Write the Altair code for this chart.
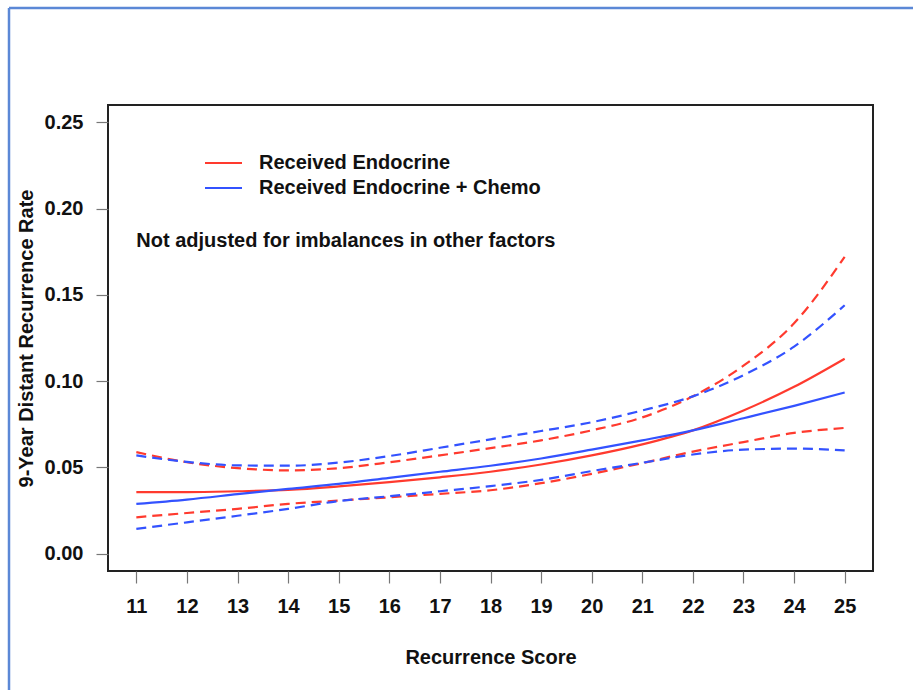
import altair as alt
import pandas as pd

scores = list(range(11, 26))

endo_est = [0.0357, 0.0357, 0.0362, 0.0370, 0.0390, 0.0415, 0.0443, 0.0475, 0.0517, 0.0570, 0.0634, 0.0715, 0.0830, 0.0967, 0.1130]
endo_lo = [0.0211, 0.0236, 0.0260, 0.0289, 0.0308, 0.0327, 0.0347, 0.0368, 0.0409, 0.0463, 0.0525, 0.0592, 0.0647, 0.0700, 0.0729]
endo_hi = [0.0589, 0.0530, 0.0496, 0.0483, 0.0496, 0.0530, 0.0570, 0.0612, 0.0657, 0.0715, 0.0790, 0.0912, 0.1090, 0.1335, 0.1720]

chemo_est = [0.0289, 0.0314, 0.0345, 0.0376, 0.0405, 0.0440, 0.0475, 0.0510, 0.0552, 0.0603, 0.0657, 0.0715, 0.0785, 0.0857, 0.0934]
chemo_lo = [0.0144, 0.0182, 0.0220, 0.0260, 0.0305, 0.0333, 0.0362, 0.0392, 0.0428, 0.0479, 0.0527, 0.0575, 0.0603, 0.0609, 0.0599]
chemo_hi = [0.0570, 0.0532, 0.0512, 0.0510, 0.0528, 0.0566, 0.0614, 0.0663, 0.0711, 0.0762, 0.0830, 0.0912, 0.1035, 0.1200, 0.1440]

groups = ["Received Endocrine", "Received Endocrine + Chemo"]
colors = ["#ff3a2e", "#3352ff"]
y_ticks = [0.0, 0.05, 0.10, 0.15, 0.20, 0.25]
note = "Not adjusted for imbalances in other factors"

rows = []
for g, est, lo, hi in [(groups[0], endo_est, endo_lo, endo_hi), (groups[1], chemo_est, chemo_lo, chemo_hi)]:
    for kind, vals in [("estimate", est), ("lower", lo), ("upper", hi)]:
        for s, v in zip(scores, vals):
            rows.append({"score": s, "rate": v, "group": g, "kind": kind})
df = pd.DataFrame(rows)

FONT = "Liberation Sans"
FS = 20

xscale = alt.Scale(domain=[10.44, 25.56], nice=False, zero=False)
yscale = alt.Scale(domain=[-0.01, 0.26], nice=False, zero=False)
cscale = alt.Scale(domain=groups, range=colors)

xaxis = alt.Axis(values=scores, title="Recurrence Score", grid=False, domain=False,
                 tickColor="#777777", tickSize=12, tickWidth=1.2,
                 labelFont=FONT, labelFontSize=FS, labelFontWeight="bold", labelColor="#111111",
                 labelPadding=13, labelFlush=False,
                 titleFont=FONT, titleFontSize=FS, titleFontWeight="bold", titleColor="#111111",
                 titleY=86, titleBaseline="middle")
yaxis = alt.Axis(values=y_ticks, format=".2f", title="9-Year Distant Recurrence Rate", grid=False, domain=False,
                 tickColor="#777777", tickSize=12, tickWidth=1.2,
                 labelFont=FONT, labelFontSize=FS, labelFontWeight="bold", labelColor="#111111",
                 labelPadding=13, labelFlush=False,
                 titleFont=FONT, titleFontSize=FS, titleFontWeight="bold", titleColor="#111111",
                 titleX=-82, titleY=233, titleAngle=-90, titleBaseline="middle", titleAlign="center")

base = alt.Chart(df)

est_lines = base.transform_filter(alt.datum.kind == "estimate").mark_line(
    strokeWidth=2.2, interpolate="monotone"
).encode(
    x=alt.X("score:Q", scale=xscale, axis=xaxis),
    y=alt.Y("rate:Q", scale=yscale, axis=yaxis),
    color=alt.Color("group:N", scale=cscale, sort=groups, legend=None),
    detail="group:N",
)

bound_lines = base.transform_filter(alt.datum.kind != "estimate").mark_line(
    strokeWidth=2.2, interpolate="monotone", strokeDash=[10, 6]
).encode(
    x=alt.X("score:Q", scale=xscale),
    y=alt.Y("rate:Q", scale=yscale),
    color=alt.Color("group:N", scale=cscale, sort=groups, legend=None),
    detail=alt.Detail(["group:N", "kind:N"]),
)

note_df = pd.DataFrame({"score": [11], "rate": [0.1814], "label": [note]})
note_text = alt.Chart(note_df).mark_text(
    align="left", baseline="middle", font=FONT, fontSize=FS, fontWeight="bold", color="#111111"
).encode(
    x=alt.X("score:Q", scale=xscale),
    y=alt.Y("rate:Q", scale=yscale),
    text="label:N",
)

# manual legend (key lines + labels)
one = pd.DataFrame({"a": [0]})
legend_layers = []
for i, (g, c) in enumerate(zip(groups, colors)):
    yy = 58 + 25 * i
    legend_layers.append(
        alt.Chart(one).mark_rule(color=c, strokeWidth=2.2).encode(
            x=alt.value(97), x2=alt.value(134), y=alt.value(yy)
        )
    )
    legend_layers.append(
        alt.Chart(one).mark_text(
            align="left", baseline="middle", font=FONT, fontSize=FS, fontWeight="bold",
            color="#111111", text=g
        ).encode(x=alt.value(151), y=alt.value(yy))
    )

frame_top = alt.Chart(one).mark_rule(color="#5b88d6", strokeWidth=2.5).encode(
    x=alt.value(-99), x2=alt.value(805), y=alt.value(-97)
)
frame_left = alt.Chart(one).mark_rule(color="#5b88d6", strokeWidth=2.5).encode(
    x=alt.value(-99), y=alt.value(-97), y2=alt.value(585)
)

chart = alt.layer(est_lines, bound_lines, note_text, *legend_layers, frame_top, frame_left).properties(
    width=765, height=466,
    autosize=alt.AutoSizeParams(type="none"),
    padding={"left": 108, "top": 105, "right": 40, "bottom": 119},
    background="white",
).configure_view(stroke="#222222", strokeWidth=2)

chart.save("out.html", embed_options={"renderer": "svg", "actions": False})
